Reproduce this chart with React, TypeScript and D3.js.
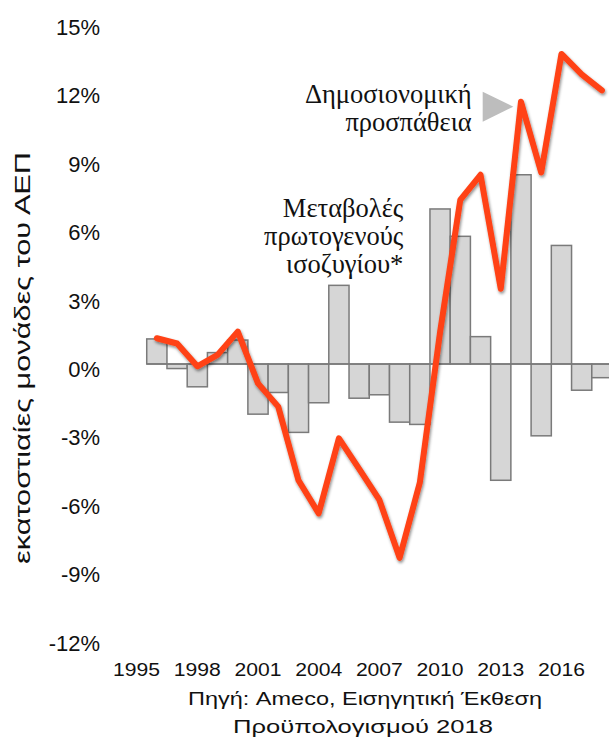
import React, {useEffect, useRef} from 'react';
import * as d3 from 'd3';

// ετήσιες μεταβολές πρωτογενούς ισοζυγίου (% ΑΕΠ)
const YEARS = d3.range(1995, 2019);
const BAR_YEARS = d3.range(1996, 2019);
const BAR_VALUES = [1.1, -0.2, -1.0, 0.5, 1.05, -2.2, -1.25, -3.0, -1.7, 3.45, -1.5, -1.35, -2.55, -2.65, 6.8, 5.6, 1.2, -5.1, 8.3, -3.15, 5.2, -1.15, -0.6];
// δημοσιονομική προσπάθεια (σωρευτικά)
const LINE_VALUES = [1.13, 0.9, -0.1, 0.4, 1.42, -0.85, -1.87, -5.1, -6.55, -3.26, -4.6, -5.96, -8.5, -5.2, 1.4, 7.2, 8.3, 3.3, 11.5, 8.4, 13.6, 12.7, 12.0];
const Y_TICKS = [15, 12, 9, 6, 3, 0, -3, -6, -9, -12];
const X_TICKS = [1995, 1998, 2001, 2004, 2007, 2010, 2013, 2016];

const App = () => {
  const ref = useRef<SVGSVGElement>(null);

  useEffect(() => {
    const svg = d3.select(ref.current);
    svg.selectAll('*').remove();

    const x = d3.scaleBand<number>().domain(YEARS).range([126.5, 126.5 + 24 * 20.23]).paddingInner(0);
    const y = d3.scaleLinear().domain([-12, 15]).range([364 + 12 * 22.8, 364 - 15 * 22.8]);

    const defs = svg.append('defs');
    const f = defs.append('filter').attr('id', 'shadow').attr('x', '-10%').attr('y', '-10%').attr('width', '120%').attr('height', '120%');
    f.append('feDropShadow').attr('dx', 1).attr('dy', 2).attr('stdDeviation', 1.6).attr('flood-color', '#000').attr('flood-opacity', 0.45);

    const sans = 'Liberation Sans, Arial, sans-serif';
    const serif = 'Liberation Serif, Times New Roman, serif';

    // y labels
    svg.append('g').selectAll('text').data(Y_TICKS).enter().append('text')
      .attr('x', 100).attr('y', d => y(d) + 13)
      .attr('text-anchor', 'end').attr('font-family', sans).attr('font-size', 22).attr('fill', '#111')
      .text(d => d + '%');

    // y title
    svg.append('text')
      .attr('transform', 'translate(30,358) rotate(-90)')
      .attr('x', -206)
      .attr('font-family', sans).attr('font-size', 22).attr('fill', '#111')
      .attr('textLength', 412).attr('lengthAdjust', 'spacingAndGlyphs')
      .text('εκατοστιαίες μονάδες του ΑΕΠ');

    // x labels
    svg.append('g').selectAll('text').data(X_TICKS).enter().append('text')
      .attr('x', d => x(d)! + x.bandwidth() / 2 - 23.5).attr('y', 676)
      .attr('font-family', sans).attr('font-size', 18).attr('fill', '#111')
      .attr('textLength', 47).attr('lengthAdjust', 'spacingAndGlyphs')
      .text(d => String(d));

    // bars
    svg.append('g').selectAll('rect').data(BAR_YEARS).enter().append('rect')
      .attr('x', d => x(d)!).attr('width', x.bandwidth())
      .attr('y', (d, i) => y(Math.max(0, BAR_VALUES[i])))
      .attr('height', (d, i) => Math.abs(y(BAR_VALUES[i]) - y(0)))
      .attr('fill', '#d6d6d6').attr('stroke', '#7a7a7a').attr('stroke-width', 1.5);

    // zero line
    svg.append('line').attr('x1', x(1996)!).attr('x2', 609).attr('y1', y(0)).attr('y2', y(0))
      .attr('stroke', '#7a7a7a').attr('stroke-width', 1.5);

    // line
    const line = d3.line<number>()
      .x((d, i) => x(BAR_YEARS[i])! + x.bandwidth() / 2)
      .y(d => y(d));
    svg.append('path').datum(LINE_VALUES).attr('d', line)
      .attr('fill', 'none').attr('stroke', '#ff4216').attr('stroke-width', 6)
      .attr('stroke-linejoin', 'round').attr('stroke-linecap', 'round')
      .attr('filter', 'url(#shadow)');

    // annotations
    const ann = (lines: string[], xr: number, y0: number) => {
      lines.forEach((t, i) => {
        svg.append('text').attr('x', xr).attr('y', y0 + i * 28.3)
          .attr('text-anchor', 'end').attr('font-family', serif).attr('font-size', 26.5).attr('fill', '#111')
          .text(t);
      });
    };
    ann(['Δημοσιονομική', 'προσπάθεια'], 471.7, 102.7);
    ann(['Μεταβολές', 'πρωτογενούς', 'ισοζυγίου*'], 403.3, 216.7);

    svg.append('path').attr('d', 'M482.7,91.7 L513.3,106.7 L482.7,121.7 Z').attr('fill', '#bdbdbd');

    // source
    svg.append('text').attr('x', 188).attr('y', 705)
      .attr('font-family', sans).attr('font-size', 19).attr('fill', '#111')
      .attr('textLength', 354).attr('lengthAdjust', 'spacingAndGlyphs')
      .text('Πηγή: Ameco, Εισηγητική Έκθεση');
    svg.append('text').attr('x', 233).attr('y', 733)
      .attr('font-family', sans).attr('font-size', 19).attr('fill', '#111')
      .attr('textLength', 260).attr('lengthAdjust', 'spacingAndGlyphs')
      .text('Προϋπολογισμού 2018');
  }, []);

  return (
    <div className="App">
      <svg ref={ref} width={609} height={740} style={{position: 'absolute', left: 0, top: 0, background: '#fff'}} />
    </div>
  );
};

export default App;
